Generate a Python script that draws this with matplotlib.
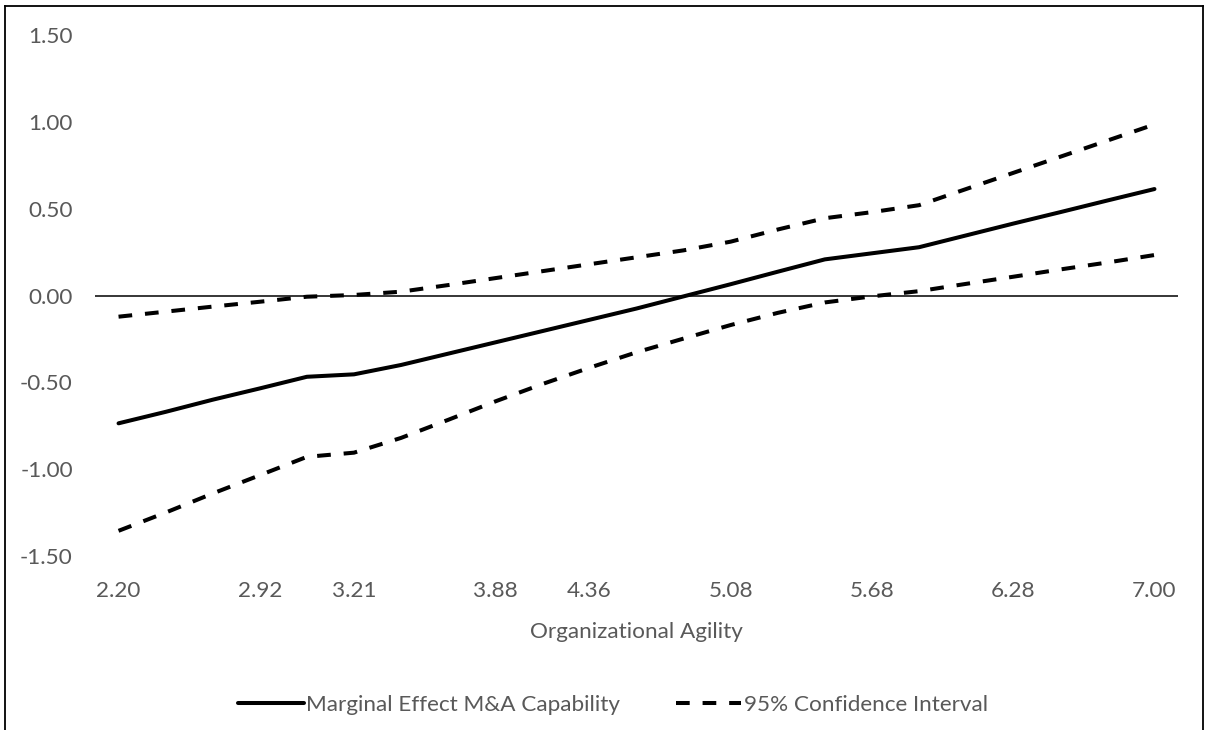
import matplotlib
matplotlib.use("Agg")
import matplotlib.pyplot as plt
from matplotlib.lines import Line2D

plt.rcParams['font.family'] = ['Lato', 'DejaVu Sans']

# category labels (Excel category axis, only some cells carry a label)
x_labels = ['2.20', '', '', '2.92', '', '3.21', '', '', '3.88', '', '4.36', '',
            '', '5.08', '', '', '5.68', '', '', '6.28', '', '', '7.00']

marginal_effect = [-0.736, -0.67, -0.60, -0.535, -0.468, -0.454, -0.40, -0.335,
                   -0.27, -0.205, -0.14, -0.075, -0.005, 0.065, 0.137, 0.208,
                   0.243, 0.278, 0.346, 0.414, 0.48, 0.547, 0.613]
ci_upper = [-0.122, -0.093, -0.064, -0.036, -0.007, 0.003, 0.022, 0.06, 0.10,
            0.14, 0.18, 0.22, 0.26, 0.31, 0.38, 0.445, 0.48, 0.52, 0.613,
            0.706, 0.799, 0.892, 0.985]
ci_lower = [-1.355, -1.25, -1.14, -1.035, -0.929, -0.905, -0.82, -0.716, -0.61,
            -0.51, -0.416, -0.327, -0.248, -0.17, -0.10, -0.04, -0.005, 0.025,
            0.067, 0.108, 0.15, 0.19, 0.233]

y_ticks = [-1.5, -1.0, -0.5, 0.0, 0.5, 1.0, 1.5]

grey = '#595959'
fsize = 16.2

fig = plt.figure(figsize=(12.07, 7.30), dpi=100)
ax = fig.add_axes([95 / 1207, 1 - 556 / 730, (1178 - 95) / 1207, (556 - 35) / 730])

x = list(range(len(x_labels)))
ax.plot(x, marginal_effect, color='black', lw=2.9, solid_capstyle='round',
        label='Marginal Effect M&A Capability')
ax.plot(x, ci_upper, color='black', lw=2.9, dashes=(3.4, 3.2),
        label='95% Confidence Interval')
ax.plot(x, ci_lower, color='black', lw=2.9, dashes=(3.4, 3.2), label='_nolegend_')
ax.axhline(0, color='black', lw=1.1, zorder=1)

ax.set_xlim(-0.5, len(x_labels) - 0.5)
ax.set_ylim(-1.5, 1.5)
ax.set_yticks(y_ticks)
ax.set_yticklabels([f'{v:.2f}' for v in y_ticks])
ax.set_xticks(x)
ax.set_xticklabels(x_labels)
ax.tick_params(axis='y', length=0, pad=16, labelsize=fsize, labelcolor=grey)
ax.tick_params(axis='x', length=0, pad=18, labelsize=fsize, labelcolor=grey)
for s in ax.spines.values():
    s.set_visible(False)

ax.set_xlabel('Organizational Agility', fontsize=fsize, color=grey, labelpad=15)

fig.legend(loc='center', bbox_to_anchor=(613 / 1207, 1 - 705 / 730), ncol=2,
           frameon=False, fontsize=fsize, labelcolor=grey, handlelength=2.9,
           handletextpad=0.1, columnspacing=2.5)

# chart border (bottom edge falls outside the image)
for xs, ys in [([5, 5], [0, 724]), ([5, 1203], [724, 724]), ([1203, 1203], [724, 0])]:
    fig.add_artist(Line2D([v / 1207 for v in xs], [v / 730 for v in ys],
                          color='black', lw=1.3))

fig.savefig('out.png', dpi=100)
